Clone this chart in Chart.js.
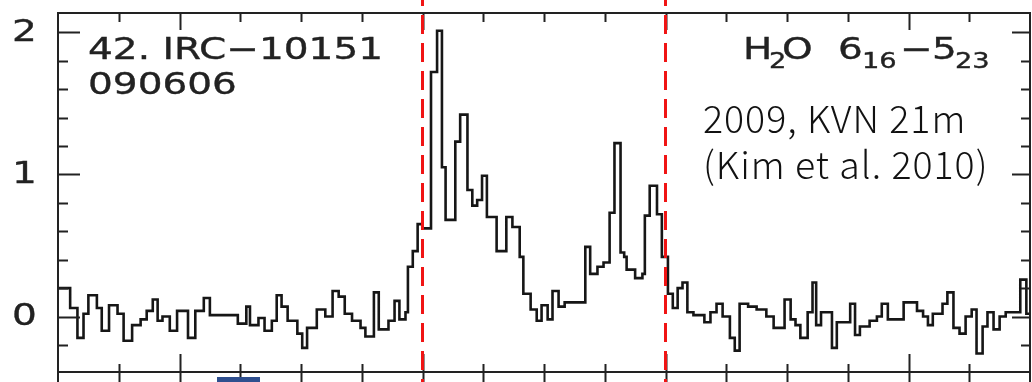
<!DOCTYPE html>
<html>
<head>
<meta charset="utf-8">
<script src="https://cdn.jsdelivr.net/npm/chart.js@4.4.1/dist/chart.umd.min.js"></script>
<style>
  html, body { margin: 0; padding: 0; background: #fff; overflow: hidden; }
  #wrap { position: relative; width: 1032px; height: 382px; }
</style>
</head>
<body>
<div id="wrap"><canvas id="spec" width="1032" height="382"></canvas></div>
<script>
'use strict';

// Step spectrum: start velocity of each flat segment (km/s) and its level (K)
const velocity = [
  0, 1.0, 1.6, 2.1, 2.5, 3.2, 3.6, 4.2, 4.9, 5.4, 6.1, 6.8, 7.3, 7.8, 8.2, 8.6, 9.2, 9.8,
  10.7, 11.3, 12.0, 12.5, 14.8, 15.5, 15.8, 16.5, 17.0, 17.6, 18.0, 18.4, 18.9, 19.7,
  20.1, 20.5, 21.3, 22.0, 22.6, 23.1, 23.6, 24.2, 24.9, 25.3, 26.0, 26.4, 27.2, 27.7,
  28.1, 28.6, 28.8, 29.2, 29.6, 30.0, 30.7, 31.2, 31.6, 31.9, 32.7, 33.1, 33.7, 34.1,
  34.5, 34.9, 35.3, 36.1, 36.9, 37.4, 38.0, 38.3, 38.9, 39.4, 39.8, 40.3, 40.7, 41.2,
  41.7, 43.4, 43.8, 44.4, 44.9, 45.4, 45.8, 46.3, 46.6, 46.8, 47.5, 48.1, 48.3, 48.7,
  49.3, 49.7, 50.2, 50.6, 51.0, 51.4, 51.8, 52.3, 53.2, 53.7, 54.2, 54.7, 55.3, 55.7,
  56.1, 56.8, 57.5, 58.3, 58.9, 59.8, 60.3, 60.7, 61.1, 61.7, 62.1, 62.4, 62.8, 63.7,
  64.1, 65.2, 65.6, 66.0, 66.8, 67.4, 67.8, 68.3, 69.6, 70.7, 71.2, 71.6, 72.0, 72.8,
  73.2, 73.7, 74.2, 74.7, 75.2, 75.6, 76.1, 76.5, 77.0, 77.5, 78.0, 79.2, 79.7, 80
];
const antennaTemp = [
  0.20, 0.06, -0.15, 0.02, 0.15, 0.06, -0.10, 0.08, 0.02, -0.17, -0.06, -0.02, 0.04, 0.12, -0.03, 0.00, -0.10, 0.04,
  -0.15, 0.04, 0.13, 0.01, -0.05, 0.07, -0.06, -0.01, -0.10, -0.03, 0.15, 0.07, -0.03, -0.12,
  -0.22, -0.08, 0.05, 0.00, 0.18, 0.14, 0.02, -0.03, -0.08, -0.14, 0.17, -0.09, -0.03, 0.11,
  -0.02, 0.03, 0.35, 0.46, 0.65, 0.62, 1.72, 2.01, 1.05, 0.68, 1.23, 1.42, 0.89, 0.78,
  0.82, 0.99, 0.70, 0.46, 0.70, 0.63, 0.42, 0.16, 0.05, -0.03, 0.08, -0.02, 0.18, 0.07,
  0.10, 0.49, 0.30, 0.35, 0.38, 0.73, 1.22, 0.45, 0.42, 0.33, 0.27, 0.30, 0.71, 0.92,
  0.72, 0.42, 0.16, 0.06, 0.20, 0.24, 0.03, 0.01, -0.04, 0.03, 0.09, 0.00, -0.15, -0.24,
  0.09, 0.07, 0.05, 0.00, -0.08, 0.12, -0.02, -0.06, -0.15, 0.03, 0.24, -0.06, 0.03, -0.22,
  -0.04, 0.09, -0.13, -0.07, -0.03, 0.00, 0.09, -0.02, 0.10, 0.04, 0.00, -0.06, 0.02, 0.09,
  0.17, -0.08, -0.12, 0.00, 0.05, -0.26, -0.07, 0.03, -0.09, 0.00, 0.03, 0.26, 0.02, 0.02
];

// Axis ticks
const xMajorTicks = [10, 30, 50, 70];
const xMinorTicks = [5, 15, 20, 25, 35, 40, 45, 55, 60, 65, 75];
const yMajorTicks = [0, 1, 2];
const yTickLabels = ['0', '1', '2'];
const yMinorTicks = [-0.2, 0.2, 0.4, 0.6, 0.8, 1.2, 1.4, 1.6, 1.8];

// Velocity window marked with dashed lines
const windowEdges = [30, 50];

const FIG_FONT = '"DejaVu Sans", sans-serif';
const INK = '#222';

// text squeezed out horizontally like the old plotting fonts
function wideText(ctx, str, x, y, px, sx = 1.3) {
  ctx.save();
  ctx.font = `${px}px ${FIG_FONT}`;
  ctx.translate(x, y);
  ctx.scale(sx, 1);
  ctx.lineWidth = 0.35;
  ctx.strokeStyle = ctx.fillStyle;
  ctx.fillText(str, 0, 0);
  ctx.strokeText(str, 0, 0);
  ctx.restore();
}

const figureFrame = {
  id: 'figureFrame',
  afterDatasetsDraw(chart) {
    const { ctx, chartArea: a, scales: { x, y } } = chart;
    const H = chart.height;
    ctx.save();
    ctx.strokeStyle = INK;
    ctx.lineWidth = 2;
    ctx.lineCap = 'butt';

    // box, side lines run on past the bottom axis
    ctx.beginPath();
    ctx.moveTo(a.left, H); ctx.lineTo(a.left, a.top);
    ctx.lineTo(a.right, a.top); ctx.lineTo(a.right, H);
    ctx.moveTo(a.left, a.bottom); ctx.lineTo(a.right, a.bottom);

    // velocity ticks: inward on top, crossing the bottom axis
    const xTick = (v, topLen, botLen) => {
      const px = Math.round(x.getPixelForValue(v)) + 0.5;
      ctx.moveTo(px, a.top); ctx.lineTo(px, a.top + topLen);
      ctx.moveTo(px, a.bottom - botLen); ctx.lineTo(px, H);
    };
    xMinorTicks.forEach(v => xTick(v, 9, 8));
    xMajorTicks.forEach(v => xTick(v, 17, 18));

    // intensity ticks on both sides
    const yTick = (v, lLen, rLen) => {
      const py = Math.round(y.getPixelForValue(v)) + 0.5;
      ctx.moveTo(a.left, py); ctx.lineTo(a.left + lLen, py);
      ctx.moveTo(a.right, py); ctx.lineTo(a.right - rLen, py);
    };
    yMinorTicks.forEach(v => yTick(v, 10, 9));
    yMajorTicks.forEach(v => yTick(v, 22, 18));
    ctx.stroke();

    // tick labels
    ctx.fillStyle = INK;
    ctx.textBaseline = 'middle';
    ctx.textAlign = 'left';
    yMajorTicks.forEach((v, i) => {
      wideText(ctx, yTickLabels[i], 12, y.getPixelForValue(v) + 1, 30, 1.3);
    });

    // panel annotations
    ctx.textBaseline = 'alphabetic';
    wideText(ctx, '42. IRC\u221210151', 88, 59, 30, 1.3);
    wideText(ctx, '090606', 88, 94, 30, 1.3);

    // H2O 6(16)-5(23)
    [['H', 743, 30, 59], ['2', 769, 21, 68], ['O', 782, 30, 59],
     ['6', 838, 30, 59], ['16', 862, 21, 68], ['\u2212', 900, 30, 59],
     ['5', 932, 30, 59], ['23', 955, 21, 68]]
      .forEach(([s, px, size, base]) => wideText(ctx, s, px, base, size, 1.3));

    // dashed window edges
    ctx.strokeStyle = '#f01414';
    ctx.lineWidth = 3;
    ctx.setLineDash([19, 9]);
    ctx.lineDashOffset = 13;
    windowEdges.forEach(v => {
      const px = x.getPixelForValue(v);
      ctx.beginPath();
      ctx.moveTo(px, 0);
      ctx.lineTo(px, H);
      ctx.stroke();
    });
    ctx.setLineDash([]);

    // observation note
    ctx.fillStyle = '#111';
    ctx.font = '300 37.5px "Noto Sans CJK JP", sans-serif';
    ctx.letterSpacing = '1px';
    ctx.fillText('2009, KVN 21m', 703, 133);
    ctx.fillText('(Kim et al. 2010)', 703, 179);
    ctx.letterSpacing = '0px';

    // edge of a shape cut off below
    ctx.fillStyle = '#2f4f8f';
    ctx.fillRect(217, 377, 43, 5);
    ctx.restore();
  }
};

new Chart(document.getElementById('spec'), {
  type: 'line',
  data: {
    datasets: [{
      data: velocity.map((v, i) => ({ x: v, y: antennaTemp[i] })),
      stepped: 'before',
      borderColor: '#161616',
      borderWidth: 2.6,
      pointRadius: 0,
      fill: false
    }]
  },
  options: {
    responsive: false,
    devicePixelRatio: 1,
    animation: false,
    layout: { padding: { left: 58, right: 2, top: 13, bottom: 10 } },
    plugins: { legend: { display: false }, tooltip: { enabled: false } },
    scales: {
      x: { type: 'linear', min: 0, max: 80, display: false },
      y: { min: -0.39, max: 2.135, display: false }
    }
  },
  plugins: [figureFrame]
});
</script>
</body>
</html>
